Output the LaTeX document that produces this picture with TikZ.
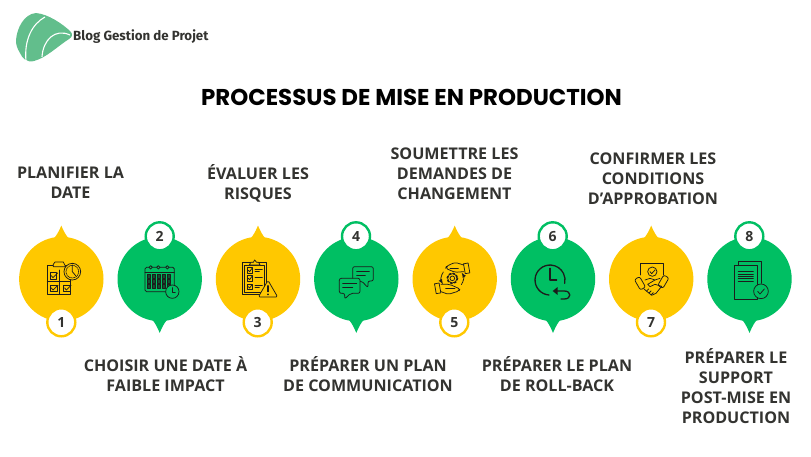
\documentclass[tikz,border=0pt]{standalone}
\usepackage{fontspec}
\setmainfont{Open Sans}
\newfontfamily\titlefont{Poppins}
\newfontfamily\logofont{Fira Sans}
\definecolor{dropyellow}{HTML}{FFC800}
\definecolor{dropgreen}{HTML}{00BF63}
\definecolor{logogreen}{HTML}{62BE8C}
\definecolor{inkdark}{HTML}{333330}
\definecolor{iconink}{HTML}{1C1C1C}
\tikzset{
	yellowdrop/.style={circle,fill=dropyellow,minimum size=84.4pt,inner sep=0pt},
	greendrop/.style={circle,fill=dropgreen,minimum size=84.4pt,inner sep=0pt},
	yellowbadge/.style={circle,fill=white,draw=dropyellow,line width=2.4pt,minimum size=28pt,inner sep=0pt,text=inkdark,font=\fontsize{14}{14}\selectfont\bfseries},
	greenbadge/.style={yellowbadge,draw=dropgreen},
	steplabel/.style={align=center,text=inkdark,inner sep=0pt,font=\fontsize{16.1}{20}\selectfont\bfseries},
	iconline/.style={draw=iconink,line width=0.75pt,line join=round,line cap=round}
}
\newcommand{\tipup}[2]{\fill[#2] ([shift={(-13,5)}]#1.north) .. controls +(6,-1) and +(-3,7) .. ([shift={(0,-11)}]#1.north) .. controls +(3,7) and +(-6,-1) .. ([shift={(13,5)}]#1.north) -- cycle;}
\newcommand{\tipdown}[2]{\fill[#2] ([shift={(-13,-5)}]#1.south) .. controls +(6,1) and +(-3,-7) .. ([shift={(0,11.5)}]#1.south) .. controls +(3,-7) and +(-6,1) .. ([shift={(13,-5)}]#1.south) -- cycle;}
\begin{document}
\begin{tikzpicture}[x=1pt,y=-1pt]

		\useasboundingbox (0, 0) rectangle (811, 456);

		% logo
		\fill[logogreen] (16, 40) .. controls (17, 28) and (24, 14) .. (36, 13)
			.. controls (48, 14) and (63, 24) .. (71, 32)
			.. controls (73, 35) and (72, 37) .. (69, 39)
			.. controls (58, 46) and (46, 58) .. (34, 61)
			.. controls (27, 63) and (22, 58) .. (20, 53)
			.. controls (17, 48) and (16, 45) .. (16, 40) -- cycle;
		\draw[white, line width=1.1pt] (45, 17) .. controls (32, 24) and (24, 40) .. (26, 61);
		\draw[white, line width=1.1pt] (70, 35) .. controls (55, 28) and (43, 40) .. (42, 57);
		\node (logotext) [anchor=west, inner sep=0pt, text=inkdark, font=\fontsize{13.3}{13}\selectfont\logofont\bfseries] at (73, 37) {Blog Gestion de Projet};

		% title
		\node (title) [inner sep=0pt, text=black, font=\fontsize{22.9}{24}\selectfont\titlefont\bfseries] at (411.5, 97) {PROCESSUS DE MISE EN PRODUCTION};

		% drops
		\node (drop1) [yellowdrop] at (61.3, 279) {};
		\node (drop2) [greendrop] at (159.7, 279) {};
		\node (drop3) [yellowdrop] at (258, 279) {};
		\node (drop4) [greendrop] at (356.3, 279) {};
		\node (drop5) [yellowdrop] at (454.7, 279) {};
		\node (drop6) [greendrop] at (553, 279) {};
		\node (drop7) [yellowdrop] at (651.2, 279) {};
		\node (drop8) [greendrop] at (749.5, 279) {};

		\tipup{drop1}{dropyellow}
		\tipdown{drop2}{dropgreen}
		\tipup{drop3}{dropyellow}
		\tipdown{drop4}{dropgreen}
		\tipup{drop5}{dropyellow}
		\tipdown{drop6}{dropgreen}
		\tipup{drop7}{dropyellow}
		\tipdown{drop8}{dropgreen}

		% numbers
		\node (badge1) [yellowbadge] at (61.3, 322.3) {1};
		\node (badge2) [greenbadge] at (159.7, 236.3) {2};
		\node (badge3) [yellowbadge] at (257.7, 322.3) {3};
		\node (badge4) [greenbadge] at (356, 236.3) {4};
		\node (badge5) [yellowbadge] at (454.3, 322.3) {5};
		\node (badge6) [greenbadge] at (552.7, 236.3) {6};
		\node (badge7) [yellowbadge] at (651, 322.3) {7};
		\node (badge8) [greenbadge] at (749.3, 236.3) {8};

		% labels
		\node (label1) [steplabel] at (70.5, 182.8) {PLANIFIER LA\\DATE};
		\node (label2) [steplabel] at (165.5, 374.3) {CHOISIR UNE DATE À\\FAIBLE IMPACT};
		\node (label3) [steplabel] at (258, 183) {ÉVALUER LES\\RISQUES};
		\node (label4) [steplabel] at (368, 374.3) {PRÉPARER UN PLAN\\DE COMMUNICATION};
		\node (label5) [steplabel] at (454.5, 174) {SOUMETTRE LES\\DEMANDES DE\\CHANGEMENT};
		\node (label6) [steplabel] at (557, 374.3) {PRÉPARER LE PLAN\\DE ROLL-BACK};
		\node (label7) [steplabel] at (653, 178.3) {CONFIRMER LES\\CONDITIONS\\D’APPROBATION};
		\node (label8) [steplabel] at (736, 386.4) {PRÉPARER LE\\SUPPORT\\POST-MISE EN\\PRODUCTION};

		% icon 1
		\begin{scope}[shift={(10, 215)}, scale=0.3333, iconline]
			\draw (112, 150) rectangle (182, 238);
			\draw[fill=dropyellow] (130, 148) -- (135, 141) -- (160, 141) -- (167, 155) -- (130, 155) -- cycle;
			\draw (147, 165) -- (147, 238);
			\draw (112, 200) -- (182, 200);
			\draw (120, 172) rectangle (140, 192);
			\draw (120, 210) rectangle (142, 228);
			\draw (160, 210) rectangle (180, 228);
			\draw (124, 182) -- (129, 188) -- (143, 174);
			\draw (124, 219) -- (129, 225) -- (144, 211);
			\draw (164, 219) -- (169, 225) -- (183, 211);
			\draw[fill=dropyellow] (187, 170) circle (25);
			\draw (187, 150) -- (187, 170) -- (197, 182);
			\draw[densely dotted] (187, 170) circle (19);
		\end{scope}

		% icon 2
		\begin{scope}[shift={(10, 215)}, scale=0.3333, iconline]
			\draw[rounded corners=1.5pt] (405, 157) rectangle (493, 230);
			\draw (405, 172) -- (493, 172);
			\draw[fill=dropgreen] (422, 157) circle (5);
			\draw[fill=dropgreen] (445, 157) circle (5);
			\draw[fill=dropgreen] (472, 157) circle (5);
			\foreach \yy in {179, 194, 209} {
				\foreach \xx in {411, 426, 441, 456, 471} {
					\draw[fill=iconink!70!dropgreen] (\xx, \yy) rectangle +(10, 10);
				}
			}
			\draw[fill=dropgreen] (487, 230) circle (20);
			\draw (487, 218) -- (487, 232) -- (496, 232);
		\end{scope}

		% icon 3
		\begin{scope}[shift={(210, 215)}, scale=0.3333, iconline]
			\draw (98, 143) rectangle (170, 238);
			\draw (104, 150) rectangle (164, 232);
			\draw[fill=dropyellow] (118, 150) -- (122, 142) -- (130, 142) -- (134, 135) -- (140, 142) -- (146, 142) -- (150, 150) -- cycle;
			\draw (112, 158) rectangle (128, 174);
			\draw (112, 182) rectangle (128, 198);
			\draw (112, 207) rectangle (128, 223);
			\draw (115, 166) -- (119, 170) -- (126, 160);
			\draw (115, 190) -- (119, 194) -- (126, 184);
			\draw (115, 215) -- (119, 219) -- (126, 209);
			\draw (135, 162) -- (157, 162);
			\draw (135, 170) -- (148, 170);
			\draw (135, 186) -- (157, 186);
			\draw (135, 210) -- (157, 210);
			\draw (135, 218) -- (148, 218);
			\draw[fill=dropyellow, rounded corners=1.5pt] (145, 246) -- (174, 196) -- (203, 246) -- cycle;
			\draw[line width=1.1pt] (174, 212) -- (174, 230);
			\fill[iconink] (174, 238) circle (2.8);
		\end{scope}

		% icon 4
		\begin{scope}[shift={(210, 215)}, scale=0.3333, iconline]
			\draw[rounded corners=2pt] (428, 155) -- (490, 155) -- (490, 198) -- (474, 198) -- (474, 218) -- (455, 198) -- (428, 198) -- cycle;
			\draw[fill=dropgreen, rounded corners=2pt] (388, 190) -- (450, 190) -- (450, 235) -- (422, 235) -- (404, 252) -- (404, 235) -- (388, 235) -- cycle;
			\draw (440, 170) -- (478, 170);
			\draw (440, 180) -- (466, 180);
			\draw (398, 206) -- (440, 206);
			\draw (398, 216) -- (428, 216);
		\end{scope}

		% icon 5
		\begin{scope}[shift={(405, 215)}, scale=0.3333, iconline]
			\draw (142, 190) circle (7);
			\draw (142, 190) circle (14);
			\draw[line width=1.3pt, dash pattern=on 1.8pt off 2.4pt] (142, 190) circle (16);
			\draw[-latex] (115, 171) arc[start angle=215, end angle=148, radius=33];
			\draw[-latex] (169, 209) arc[start angle=35, end angle=-32, radius=33];
			\draw[rounded corners=2pt] (176, 170) -- (150, 172) -- (122, 160) -- (124, 154) -- (150, 142) -- (176, 150);
			\draw (135, 160) -- (160, 160);
			\draw[rotate around={10:(185, 160)}] (178, 145) rectangle (192, 175);
			\draw[rounded corners=2pt] (108, 208) -- (134, 208) -- (165, 222) -- (162, 228) -- (130, 238) -- (108, 230);
			\draw (122, 221) -- (150, 221);
			\draw[rotate around={10:(98, 220)}] (91, 205) rectangle (105, 235);
		\end{scope}

		% icon 6
		\begin{scope}[shift={(405, 215)}, scale=0.3333, iconline, line width=1.3pt]
			\draw (432, 240) arc[start angle=94, end angle=373, radius=45];
			\draw (435, 160) -- (435, 195) -- (455, 195);
			\draw (450, 228) -- (478, 228) .. controls (500, 228) and (500, 252) .. (478, 252) -- (468, 252);
			\fill[iconink] (443, 228) -- (458, 216) -- (458, 240) -- cycle;
		\end{scope}

		% icon 7
		\begin{scope}[shift={(600, 215)}, scale=0.3333, iconline]
			\draw (122, 180) -- (122, 146) -- (190, 146) -- (190, 180);
			\draw (157, 170) circle (14);
			\draw (150, 170) -- (155, 176) -- (165, 165);
			\draw[rounded corners=2pt, rotate around={30:(120, 205)}] (111, 187) rectangle (129, 223);
			\draw[rounded corners=2pt, rotate around={-30:(190, 200)}] (181, 182) rectangle (199, 218);
			\draw (135, 195) -- (150, 190) -- (165, 195) -- (143, 208) -- (150, 215) -- (165, 208) -- (185, 214) -- (168, 235) -- (155, 241) -- (132, 222);
			\draw (165, 195) -- (180, 190);
			\draw (140, 228) -- (146, 222);
			\draw (147, 234) -- (153, 228);
			\draw (154, 239) -- (160, 233);
		\end{scope}

		% icon 8
		\begin{scope}[shift={(600, 215)}, scale=0.3333, iconline]
			\draw (415, 152) -- (415, 140) -- (485, 140) -- (485, 205);
			\draw (403, 152) rectangle (472, 252);
			\draw (415, 170) -- (460, 170);
			\draw (415, 177) -- (460, 177);
			\draw (415, 184) -- (460, 184);
			\draw (415, 191) -- (460, 191);
			\draw (415, 198) -- (460, 198);
			\draw[fill=dropgreen] (483, 229) circle (22);
			\draw (473, 229) -- (480, 237) -- (493, 222);
		\end{scope}

\end{tikzpicture}
\end{document}
